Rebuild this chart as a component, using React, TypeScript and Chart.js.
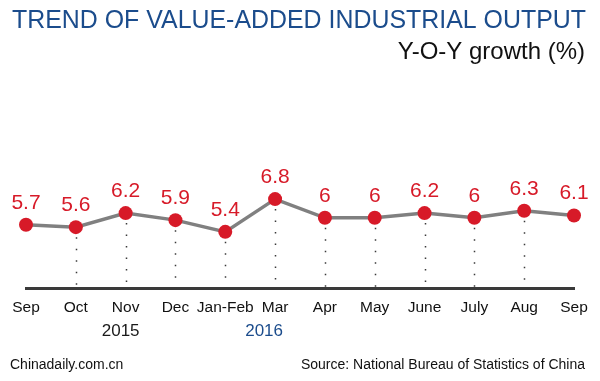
import React, { useEffect, useRef } from 'react';
import { Chart, registerables } from 'chart.js';

Chart.register(...registerables);

const months = ['Sep', 'Oct', 'Nov', 'Dec', 'Jan-Feb', 'Mar', 'Apr', 'May', 'June', 'July', 'Aug', 'Sep'];
const growth = [5.7, 5.6, 6.2, 5.9, 5.4, 6.8, 6, 6, 6.2, 6, 6.3, 6.1];
const valueLabels = ['5.7', '5.6', '6.2', '5.9', '5.4', '6.8', '6', '6', '6.2', '6', '6.3', '6.1'];
const yearLabels = ['2015', '2016'];
const yearAnchors = [2, 5];
const titleText = 'TREND OF VALUE-ADDED INDUSTRIAL OUTPUT';
const subtitleText = 'Y-O-Y growth (%)';
const creditText = 'Chinadaily.com.cn';
const sourceText = 'Source: National Bureau of Statistics of China';

const FONT = '"Liberation Sans", Arial, sans-serif';
const RED = '#d71a28';
const BLUE = '#1b4c8c';

const decorPlugin = {
  id: 'decor',
  beforeDatasetsDraw(chart: any) {
    const ctx = chart.ctx;
    const meta = chart.getDatasetMeta(0);
    const bottom = chart.chartArea.bottom;
    ctx.save();
    ctx.strokeStyle = '#3a3a3a';
    ctx.lineWidth = 1.5;
    ctx.setLineDash([1.5, 10]);
    meta.data.forEach((pt: any, i: number) => {
      if (i === 0 || i === meta.data.length - 1) return;
      ctx.beginPath();
      ctx.moveTo(Math.round(pt.x) + 0.5, pt.y + 10);
      ctx.lineTo(Math.round(pt.x) + 0.5, bottom);
      ctx.stroke();
    });
    ctx.restore();
  },
  afterDraw(chart: any) {
    const ctx = chart.ctx;
    const meta = chart.getDatasetMeta(0);
    const xs = chart.scales.x;
    ctx.save();
    // value labels
    ctx.fillStyle = RED;
    ctx.font = `21px ${FONT}`;
    ctx.textAlign = 'center';
    ctx.textBaseline = 'alphabetic';
    meta.data.forEach((pt: any, i: number) => {
      let x = pt.x;
      ctx.fillText(valueLabels[i], x, pt.y - 16);
    });
    // year labels
    ctx.font = `17px ${FONT}`;
    const yearOffsets = [-5, -11];
    yearLabels.forEach((t, i) => {
      ctx.fillStyle = i === 0 ? '#1a1a1a' : BLUE;
      const x = xs.getPixelForValue(yearAnchors[i]) + yearOffsets[i];
      ctx.fillText(t, x, 336);
    });
    // titles
    ctx.textAlign = 'left';
    ctx.fillStyle = BLUE;
    ctx.font = `25px ${FONT}`;
    ctx.fillText(titleText, 12, 28, 574);
    ctx.textAlign = 'right';
    ctx.fillStyle = '#111';
    ctx.font = `24px ${FONT}`;
    ctx.fillText(subtitleText, 585, 59);
    // footer
    ctx.font = `14px ${FONT}`;
    ctx.fillStyle = '#111';
    ctx.textAlign = 'left';
    ctx.fillText(creditText, 10, 369);
    ctx.textAlign = 'right';
    ctx.fillText(sourceText, 585, 369);
    ctx.restore();
  },
};

export default function App() {
  const ref = useRef<HTMLCanvasElement | null>(null);
  useEffect(() => {
    if (!ref.current) return;
    const chart = new Chart(ref.current, {
      type: 'line',
      data: {
        labels: months,
        datasets: [
          {
            data: growth,
            borderColor: '#808080',
            borderWidth: 3.5,
            pointRadius: 7,
            pointBackgroundColor: RED,
            pointBorderColor: RED,
            pointBorderWidth: 0,
            tension: 0,
          },
        ],
      },
      options: {
        animation: false,
        responsive: false,
        maintainAspectRatio: false,
        layout: { padding: { left: 26, right: 26, top: 171, bottom: 0 } },
        plugins: { legend: { display: false }, tooltip: { enabled: false } },
        scales: {
          x: {
            offset: false,
            grid: { display: false, drawTicks: false },
            border: { display: true, color: '#3a3a3a', width: 3 },
            ticks: {
              autoSkip: false,
              maxRotation: 0,
              padding: 10,
              color: '#111',
              font: { family: FONT, size: 15.5 },
            },
            afterFit: (scale: any) => {
              scale.height = 93;
            },
          },
          y: { display: false, min: 3, max: 8 },
        },
      },
      plugins: [decorPlugin],
    });
    return () => chart.destroy();
  }, []);
  return (
    <div style={{ position: 'fixed', left: 0, top: 0, width: 600, height: 381, background: '#fff' }}>
      <canvas ref={ref} width={600} height={381} style={{ width: 600, height: 381 }} />
    </div>
  );
}
